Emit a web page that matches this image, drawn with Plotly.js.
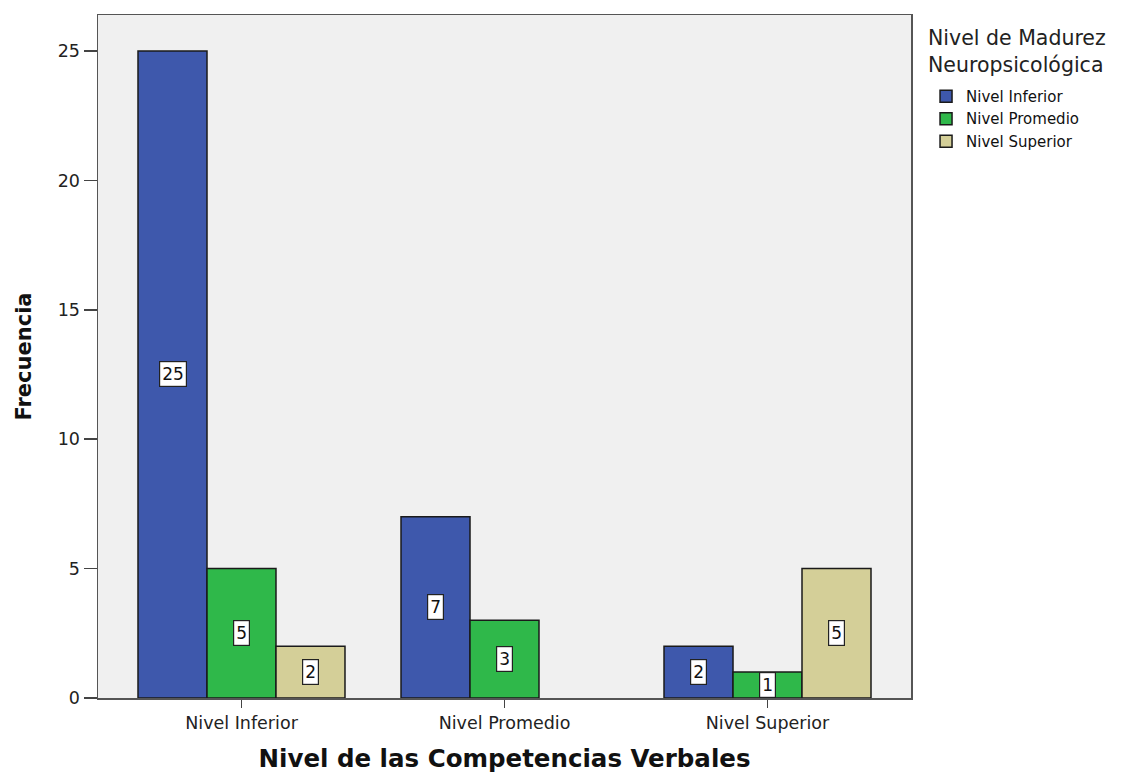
<!DOCTYPE html>
<html>
<head>
<meta charset="utf-8">
<script src="https://cdn.plot.ly/plotly-3.0.1.min.js"></script>
<style>html,body{margin:0;padding:0;background:#fff;}#chart{width:1125px;height:773px;}</style>
</head>
<body>
<div id="chart"></div>
<script>
const categories = ["Nivel Inferior", "Nivel Promedio", "Nivel Superior"];
const seriesNames = ["Nivel Inferior", "Nivel Promedio", "Nivel Superior"];
const inferior = [25, 7, 2];
const promedio = [5, 3, 1];
const superior = [2, null, 5];
const colors = ["#3e58ac", "#2fb84a", "#d4cf98"];
const allSeries = [inferior, promedio, superior];
const legendTitle = "Nivel de Madurez<br>Neuropsicológica";
const xTitle = "Nivel de las Competencias Verbales";
const yTitle = "Frecuencia";

const FONT = 'DejaVu Sans, Verdana, sans-serif';
const groupWidth = 0.787;
const barW = groupWidth / 3;

const traces = allSeries.map((vals, i) => ({
  type: 'bar',
  name: seriesNames[i],
  x: categories,
  y: vals,
  marker: {color: colors[i], line: {color: '#1a1a1a', width: 1.5}},
  hoverinfo: 'none'
}));

const annotations = [];
allSeries.forEach((vals, i) => {
  vals.forEach((v, j) => {
    if (v === null) return;
    annotations.push({
      x: j + (i - 1) * barW, xref: 'x',
      y: v / 2, yref: 'y',
      text: String(v), showarrow: false,
      font: {family: FONT, size: 17, color: '#111'},
      bgcolor: '#ffffff', bordercolor: '#222', borderwidth: 1.2, borderpad: 2
    });
  });
});

annotations.push({
  xref: 'paper', yref: 'paper', x: 1.0185, y: 0.9875,
  xanchor: 'left', yanchor: 'top', align: 'left',
  text: legendTitle, showarrow: false,
  font: {family: FONT, size: 20.5, color: '#222'}
});

const layout = {
  width: 1125, height: 773,
  margin: {l: 98, r: 214, t: 15, b: 75},
  paper_bgcolor: '#ffffff',
  plot_bgcolor: '#f0f0f0',
  barmode: 'group',
  bargap: 0.213,
  bargroupgap: 0,
  font: {family: FONT, color: '#222'},
  xaxis: {
    type: 'category',
    range: [-0.5456, 2.5456],
    showgrid: false, zeroline: false,
    showline: true, linecolor: '#555', linewidth: 1.5, mirror: true,
    ticks: 'outside', ticklen: 8, tickcolor: '#444', tickwidth: 1.5,
    tickfont: {family: FONT, size: 17.5, color: '#222'},
    title: {text: '<b>' + xTitle + '</b>', font: {family: FONT, size: 24.5, color: '#111'}, standoff: 18}
  },
  yaxis: {
    range: [0, 26.39],
    tickvals: [0, 5, 10, 15, 20, 25],
    showgrid: false, zeroline: false,
    showline: true, linecolor: '#555', linewidth: 1.5, mirror: true,
    ticks: 'outside', ticklen: 13, tickcolor: '#444', tickwidth: 1.5,
    tickfont: {family: FONT, size: 17.5, color: '#222'},
    title: {text: '<b>' + yTitle + '</b>', font: {family: FONT, size: 21, color: '#111'}, standoff: 20}
  },
  showlegend: true,
  legend: {
    x: 1.0185, y: 0.905, xanchor: 'left', yanchor: 'top',
    bgcolor: 'rgba(0,0,0,0)',
    font: {family: FONT, size: 15, color: '#111'},
    itemwidth: 30, tracegroupgap: 0
  },
  annotations: annotations
};

Plotly.newPlot('chart', traces, layout, {displayModeBar: false, staticPlot: true});
</script>
</body>
</html>
